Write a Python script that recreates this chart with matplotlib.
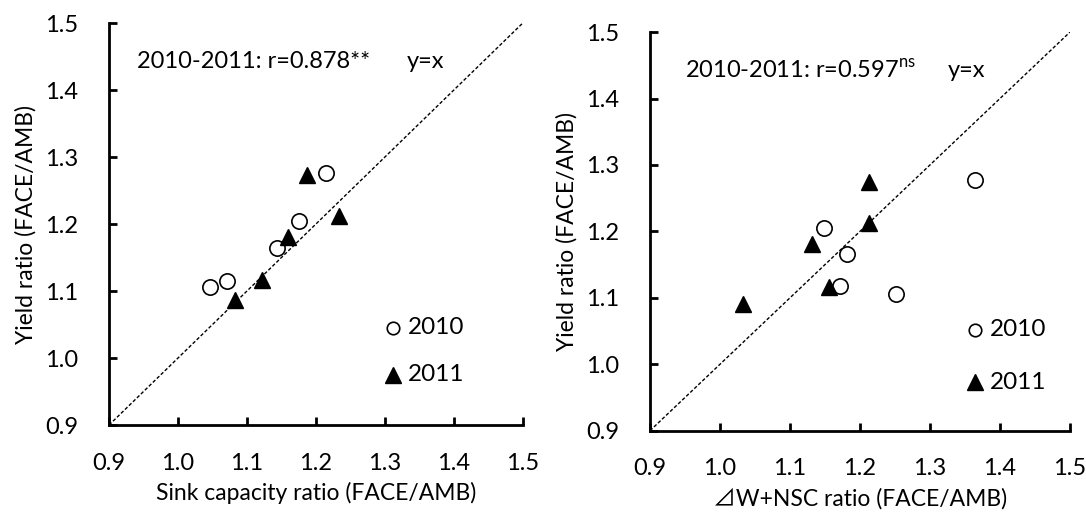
import matplotlib
matplotlib.use("Agg")
import matplotlib.pyplot as plt

FONT = ['Lato', 'Noto Sans CJK JP', 'DejaVu Sans']
plt.rcParams['font.family'] = FONT
plt.rcParams['mathtext.fontset'] = 'custom'
plt.rcParams['mathtext.rm'] = 'Lato'

# Left panel: sink capacity ratio vs yield ratio
sink_2010 = [1.047, 1.071, 1.143, 1.176, 1.215]
yield_sink_2010 = [1.106, 1.115, 1.164, 1.205, 1.276]
sink_2011 = [1.083, 1.122, 1.159, 1.187, 1.233]
yield_sink_2011 = [1.086, 1.117, 1.181, 1.273, 1.212]

# Right panel: dW+NSC ratio vs yield ratio
wnsc_2010 = [1.171, 1.182, 1.148, 1.251, 1.365]
yield_wnsc_2010 = [1.118, 1.166, 1.205, 1.106, 1.278]
wnsc_2011 = [1.033, 1.156, 1.132, 1.213, 1.213]
yield_wnsc_2011 = [1.090, 1.117, 1.181, 1.213, 1.275]

ticks = [0.9, 1.0, 1.1, 1.2, 1.3, 1.4, 1.5]
tick_labels = ['0.9', '1.0', '1.1', '1.2', '1.3', '1.4', '1.5']
years = ['2010', '2011']

fig = plt.figure(figsize=(10.86, 5.13), dpi=100)
axL = fig.add_axes([0.1004, 0.1715, 0.381, 0.7836])
axR = fig.add_axes([0.5985, 0.1604, 0.3867, 0.777])

panels = [
    (axL, sink_2010, yield_sink_2010, sink_2011, yield_sink_2011,
     'Sink capacity ratio (FACE/AMB)', '2010-2011: r=0.878**',
     (0.941, 1.332), (1.312, 1.045, 0.975)),
    (axR, wnsc_2010, yield_wnsc_2010, wnsc_2011, yield_wnsc_2011,
     '\u22bfW+NSC ratio (FACE/AMB)', '2010-2011: r=0.597$^{\\mathrm{ns}}$',
     (0.950, 1.326), (1.364, 1.052, 0.973)),
]

for ax, x10, y10, x11, y11, xlabel, rtext, tx, leg in panels:
    ax.plot([0.9, 1.5], [0.9, 1.5], color='black', lw=1.0,
            linestyle=(0, (2.5, 1.5)), zorder=1)
    ax.plot(x10, y10, linestyle='none', marker='o', markersize=11,
            markerfacecolor='white', markeredgecolor='black', markeredgewidth=1.2, zorder=3)
    ax.plot(x11, y11, linestyle='none', marker='^', markersize=12,
            markerfacecolor='black', markeredgecolor='black', zorder=3)
    ax.set_xlim(0.9, 1.5)
    ax.set_ylim(0.9, 1.5)
    ax.set_xticks(ticks)
    ax.set_xticklabels(tick_labels)
    ax.set_yticks(ticks)
    ax.set_yticklabels(tick_labels)
    for s in ['top', 'right']:
        ax.spines[s].set_visible(False)
    for s in ['left', 'bottom']:
        ax.spines[s].set_linewidth(2.0)
    ax.tick_params(direction='in', length=6, width=2, labelsize=17)
    ax.tick_params(axis='x', pad=20)
    ax.tick_params(axis='y', pad=22)
    ax.set_xlabel(xlabel, fontsize=16.5, labelpad=6)
    ax.set_ylabel('Yield ratio (FACE/AMB)', fontsize=16.5, labelpad=6)
    ax.text(tx[0], 1.442, rtext, fontsize=17, va='center', ha='left')
    ax.text(tx[1], 1.442, 'y=x', fontsize=17, va='center', ha='left')
    # legend
    lx, ly1, ly2 = leg
    ax.plot([lx], [ly1], linestyle='none', marker='o', markersize=9,
            markerfacecolor='white', markeredgecolor='black', markeredgewidth=1.2)
    ax.plot([lx], [ly2], linestyle='none', marker='^', markersize=11,
            markerfacecolor='black', markeredgecolor='black')
    ax.text(lx + 0.022, ly1, years[0], fontsize=17.5, va='center', ha='left')
    ax.text(lx + 0.022, ly2, years[1], fontsize=17.5, va='center', ha='left')

fig.savefig('out.png', dpi=100)
